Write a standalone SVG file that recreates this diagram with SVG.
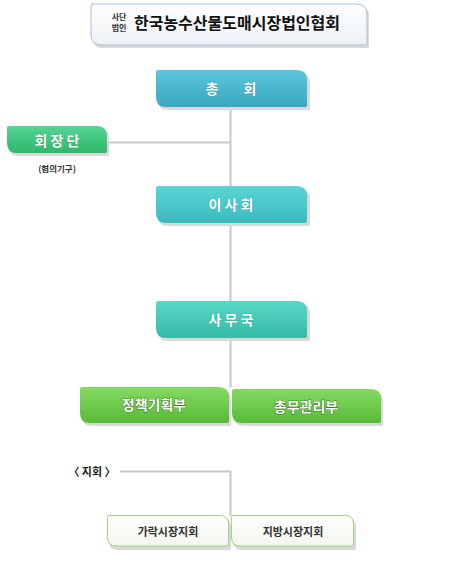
<svg xmlns="http://www.w3.org/2000/svg" width="460" height="570" viewBox="0 0 460 570">
<defs>
<linearGradient id="gTitle" x1="0" y1="0" x2="0" y2="1"><stop offset="0" stop-color="#ffffff"/><stop offset="1" stop-color="#eef1f5"/></linearGradient>
<linearGradient id="gBlue" x1="0" y1="0" x2="0" y2="1"><stop offset="0" stop-color="#5ec6dc"/><stop offset="1" stop-color="#39a7c1"/></linearGradient>
<linearGradient id="gCyan" x1="0" y1="0" x2="0" y2="1"><stop offset="0" stop-color="#5bd5d6"/><stop offset="1" stop-color="#3ab9bf"/></linearGradient>
<linearGradient id="gTeal" x1="0" y1="0" x2="0" y2="1"><stop offset="0" stop-color="#58d8c6"/><stop offset="1" stop-color="#36b9a6"/></linearGradient>
<linearGradient id="gGreen" x1="0" y1="0" x2="0" y2="1"><stop offset="0" stop-color="#55d494"/><stop offset="1" stop-color="#30b86c"/></linearGradient>
<linearGradient id="gLime" x1="0" y1="0" x2="0" y2="1"><stop offset="0" stop-color="#84da62"/><stop offset="1" stop-color="#58ba38"/></linearGradient>
<linearGradient id="gWhite" x1="0" y1="0" x2="0" y2="1"><stop offset="0" stop-color="#ffffff"/><stop offset="1" stop-color="#f3f7ee"/></linearGradient>
</defs>
<style>
text{font-family:"Noto Sans CJK KR","Noto Sans",sans-serif;font-weight:bold;text-anchor:middle;dominant-baseline:central}
.w{fill:#ffffff;font-size:14px;stroke:rgba(0,60,60,0.35);stroke-width:0.6;paint-order:stroke}
.d{fill:#ffffff;font-size:14px;stroke:rgba(30,80,10,0.6);stroke-width:1.2;paint-order:stroke}
.b{fill:#333333;font-size:11px}
.sh{fill:#d9d9d9}
.line{fill:none;stroke:#c8c8c8;stroke-width:2}
</style>
<g id="connectors">
<path class="line" d="M230.5,107 V388"/>
<path class="line" d="M107,142.5 H230.5"/>
<path class="line" d="M120,471.5 H230.5 V516"/>
</g>
<g id="title">
<path class="sh" d="M93,6 H357 Q369,6 369,16 V46 Q369,48 367,48 H102 Q93,48 93,38 V8 Q93,6 95,6 Z"/>
<path d="M92,4 H356 Q367,4 367,14 V43 Q367,45 365,45 H102 Q91,45 91,35 V6 Q91,4 93,4 Z" fill="url(#gTitle)" stroke="#a7c0d9" stroke-width="1"/>
<text x="119" y="16" style="font-size:8px;fill:#333">사단</text>
<text x="119" y="27" style="font-size:8px;fill:#333">법인</text>
<text x="237" y="22" style="font-size:16px;fill:#111">한국농수산물도매시장법인협회</text>
</g>
<g id="chonghoe">
<path class="sh" d="M159,73 H300 Q310,73 310,83 V109 Q310,110 308,110 H168 Q158,110 158,100 V75 Z"/>
<path d="M158,70 H297 Q307,70 307,80 V105 Q307,107 305,107 H166 Q156,107 156,97 V72 Q156,70 158,70 Z" fill="url(#gBlue)"/>
<text class="w" x="212" y="88">총</text>
<text class="w" x="250" y="88">회</text>
</g>
<g id="hoejangdan">
<path class="sh" d="M10,129 H100 Q109,129 109,139 V155 Q109,156 107,156 H19 Q9,156 9,146 V131 Z"/>
<path d="M9,126 H97 Q107,126 107,136 V151 Q107,153 105,153 H17 Q7,153 7,143 V128 Q7,126 9,126 Z" fill="url(#gGreen)"/>
<text class="w" x="57" y="140">회 장 단</text>
<text x="57" y="168" style="font-size:8.5px;fill:#333">(협의기구)</text>
</g>
<g id="isahoe">
<path class="sh" d="M159,189 H300 Q310,189 310,199 V225 Q310,226 308,226 H168 Q158,226 158,216 V191 Z"/>
<path d="M158,186 H297 Q307,186 307,196 V221 Q307,223 305,223 H166 Q156,223 156,213 V188 Q156,186 158,186 Z" fill="url(#gCyan)"/>
<text class="w" x="231" y="204">이 사 회</text>
</g>
<g id="samuguk">
<path class="sh" d="M159,304 H300 Q310,304 310,314 V340 Q310,341 308,341 H168 Q158,341 158,331 V306 Z"/>
<path d="M158,301 H297 Q307,301 307,311 V336 Q307,338 305,338 H166 Q156,338 156,328 V303 Q156,301 158,301 Z" fill="url(#gTeal)"/>
<text class="w" x="231" y="319">사 무 국</text>
</g>
<g id="jeongchaek">
<path class="sh" d="M83,390 H222 Q231,390 231,400 V425 Q231,426 229,426 H92 Q82,426 82,416 V392 Z"/>
<path d="M82,387 H219 Q229,387 229,397 V421 Q229,423 227,423 H90 Q80,423 80,413 V389 Q80,387 82,387 Z" fill="url(#gLime)"/>
<text class="d" x="154" y="404">정책기획부</text>
</g>
<g id="chongmu">
<path class="sh" d="M235,392 H374 Q383,392 383,402 V425 Q383,426 381,426 H244 Q234,426 234,416 V394 Z"/>
<path d="M234,389 H371 Q381,389 381,399 V421 Q381,423 379,423 H242 Q232,423 232,413 V391 Q232,389 234,389 Z" fill="url(#gLime)"/>
<text class="d" x="306" y="406">총무관리부</text>
</g>
<g id="jihoe">
<text x="92" y="471" style="font-size:11px;fill:#222">〈 지회 〉</text>
</g>
<g id="garak">
<path class="sh" d="M110,518 H223 Q231,518 231,527 V549 Q231,550 229,550 H118 Q109,550 109,541 V520 Z"/>
<path d="M109,515.5 H220 Q228.5,515.5 228.5,524 V544 Q228.5,546 226.5,546 H116 Q107.5,546 107.5,537 V517.5 Q107.5,515.5 109,515.5 Z" fill="url(#gWhite)" stroke="#a2d283" stroke-width="1"/>
<text class="b" x="168" y="531">가락시장지회</text>
</g>
<g id="jibang">
<path class="sh" d="M234,518 H347 Q356,518 356,527 V549 Q356,550 354,550 H242 Q233,550 233,541 V520 Z"/>
<path d="M233,515.5 H345 Q353.5,515.5 353.5,524 V544 Q353.5,546 351.5,546 H240 Q231.5,546 231.5,537 V517.5 Q231.5,515.5 233,515.5 Z" fill="url(#gWhite)" stroke="#a2d283" stroke-width="1"/>
<text class="b" x="293" y="531">지방시장지회</text>
</g>
</svg>
